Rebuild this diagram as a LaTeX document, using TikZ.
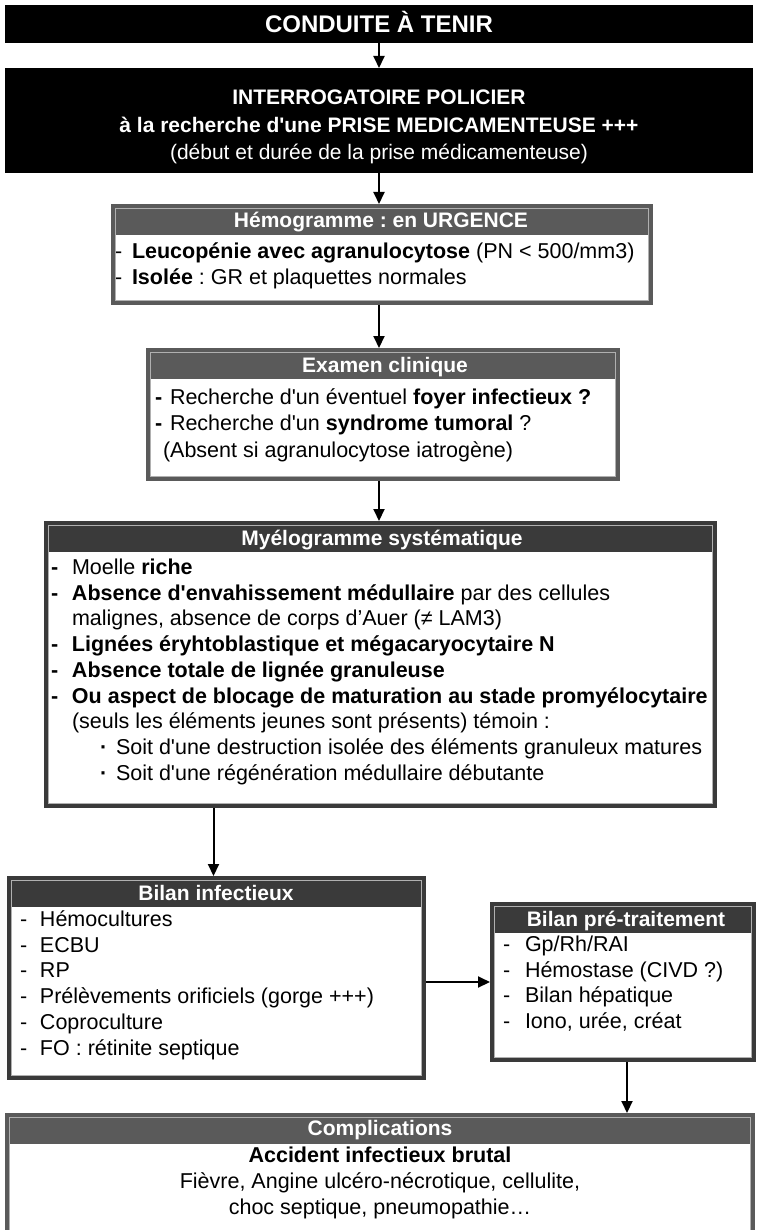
\documentclass[tikz,border=0pt]{standalone}
\usepackage{fontspec}
\setmainfont{Liberation Sans}[Ligatures=TeXOff]
\usetikzlibrary{arrows.meta}
\frenchspacing
\definecolor{grayA}{HTML}{5A5A5A}
\definecolor{grayB}{HTML}{3A3A3A}
\definecolor{innerl}{HTML}{B0B0B0}
\tikzset{
  every node/.style={inner sep=0pt, outer sep=0pt},
  txt/.style={font=\fontsize{21.5}{25}\selectfont, anchor=base west},
  ctxt/.style={font=\fontsize{21.5}{25}\selectfont, anchor=base},
  htxt/.style={font=\fontsize{21}{25}\selectfont\bfseries, text=white, anchor=base},
  arr/.style={line width=2pt, -{Triangle[width=11pt,length=12pt]}},
  blackbox/.style={fill=black, draw=none, anchor=north west},
  framebox/.style={draw=#1, line width=4pt, fill=white, outer sep=2pt, anchor=north west},
}
\newcommand{\hdrfill}[3]{%
  \fill[#2] ([xshift=4pt,yshift=-4pt]#1.north west) rectangle ([xshift=-4pt,yshift=-#3]#1.north east);
  \draw[innerl, line width=0.8pt] ([xshift=4.4pt,yshift=-4.4pt]#1.north west) rectangle ([xshift=-4.4pt,yshift=4.4pt]#1.south east);
}
\begin{document}
\frenchspacing
\begin{tikzpicture}[x=1pt,y=-1pt]
\clip (0,0) rectangle (758,1230);
\fill[white] (0,0) rectangle (758,1230);

% banner
\node[blackbox, minimum width=748pt, minimum height=38pt] (banner) at (5,5) {};
\node[htxt, font=\fontsize{24}{28}\selectfont\bfseries] (bannerT) at (379,32.6) {CONDUITE À TENIR};

% interrogatoire
\node[blackbox, minimum width=748pt, minimum height=105pt] (interro) at (5,68) {};
\node[htxt] (int1) at (379,104.5) {INTERROGATOIRE POLICIER};
\node[htxt] (int2) at (379,132.5) {à la recherche d'une PRISE MEDICAMENTEUSE +++};
\node[htxt, font=\fontsize{21}{25}\selectfont] (int3) at (379,159.5) {(début et durée de la prise médicamenteuse)};

% hemogramme
\node[framebox=grayA, minimum width=538pt, minimum height=97pt] (hemo) at (111,204) {};
\hdrfill{hemo}{grayA}{31pt}
\node[htxt] (hemoT) at (381,227.5) {Hémogramme : en URGENCE};
\node[txt] (hemo1) at (115,258.5) {\makebox[17pt][l]{-}\textbf{Leucopénie avec agranulocytose} (PN < 500/mm3)};
\node[txt] (hemo2) at (115,284.5) {\makebox[17pt][l]{-}\textbf{Isolée} : GR et plaquettes normales};

% examen clinique
\node[framebox=grayA, minimum width=470pt, minimum height=129pt] (exam) at (146,348) {};
\hdrfill{exam}{grayA}{31pt}
\node[htxt] (examT) at (385,372) {Examen clinique};
\node[txt] (exam1) at (155,404.5) {\makebox[15pt][l]{\textbf{-}}Recherche d'un éventuel \textbf{foyer infectieux ?}};
\node[txt] (exam2) at (155,430.5) {\makebox[15pt][l]{\textbf{-}}Recherche d'un \textbf{syndrome tumoral} ?};
\node[txt] (exam3) at (163,457) {(Absent si agranulocytose iatrogène)};

% myelogramme
\node[framebox=grayB, minimum width=669pt, minimum height=283pt] (myelo) at (44,521) {};
\hdrfill{myelo}{grayB}{31pt}
\node[htxt] (myeloT) at (382,545.5) {Myélogramme systématique};
\node[txt] (my1) at (51,574.5) {\makebox[21pt][l]{\textbf{-}}Moelle \textbf{riche}};
\node[txt] (my2) at (51,600.2) {\makebox[21pt][l]{\textbf{-}}\textbf{Absence d'envahissement médullaire} par des cellules};
\node[txt] (my3) at (72,625.9) {malignes, absence de corps d’Auer (≠ LAM3)};
\node[txt] (my4) at (51,651.6) {\makebox[21pt][l]{\textbf{-}}\textbf{Lignées éryhtoblastique et mégacaryocytaire N}};
\node[txt] (my5) at (51,677.3) {\makebox[21pt][l]{\textbf{-}}\textbf{Absence totale de lignée granuleuse}};
\node[txt] (my6) at (51,703.0) {\makebox[21pt][l]{\textbf{-}}\textbf{Ou aspect de blocage de maturation au stade promyélocytaire}};
\node[txt] (my7) at (72,728.7) {(seuls les éléments jeunes sont présents) témoin :};
\node[txt] (my8) at (100,754.4) {\makebox[16pt][l]{\textbf{·}}Soit d'une destruction isolée des éléments granuleux matures};
\node[txt] (my9) at (100,780.1) {\makebox[16pt][l]{\textbf{·}}Soit d'une régénération médullaire débutante};

% bilan infectieux
\node[framebox=grayB, minimum width=415pt, minimum height=200pt] (binf) at (7,876) {};
\hdrfill{binf}{grayB}{31pt}
\node[htxt] (binfT) at (216,900.5) {Bilan infectieux};
\node[txt] (bi1) at (20,926.5) {\makebox[20pt][l]{-}Hémocultures};
\node[txt] (bi2) at (20,952.2) {\makebox[20pt][l]{-}ECBU};
\node[txt] (bi3) at (20,977.9) {\makebox[20pt][l]{-}RP};
\node[txt] (bi4) at (20,1003.6) {\makebox[20pt][l]{-}Prélèvements orificiels (gorge +++)};
\node[txt] (bi5) at (20,1029.3) {\makebox[20pt][l]{-}Coproculture};
\node[txt] (bi6) at (20,1055) {\makebox[20pt][l]{-}FO : rétinite septique};

% bilan pre-traitement
\node[framebox=grayB, minimum width=262pt, minimum height=156pt] (pret) at (490,902) {};
\hdrfill{pret}{grayB}{31pt}
\node[htxt] (pretT) at (626,926.5) {Bilan pré-traitement};
\node[txt] (pr1) at (503,951.5) {\makebox[22pt][l]{-}Gp/Rh/RAI};
\node[txt] (pr2) at (503,977.2) {\makebox[22pt][l]{-}Hémostase (CIVD ?)};
\node[txt] (pr3) at (503,1002.9) {\makebox[22pt][l]{-}Bilan hépatique};
\node[txt] (pr4) at (503,1028.6) {\makebox[22pt][l]{-}Iono, urée, créat};

% complications
\node[framebox=grayA, minimum width=746pt, minimum height=140pt] (compl) at (5,1113) {};
\hdrfill{compl}{grayA}{31pt}
\node[htxt] (complT) at (380,1135) {Complications};
\node[ctxt] (co1) at (380,1162) {\textbf{Accident infectieux brutal}};
\node[ctxt] (co2) at (380,1188) {Fièvre, Angine ulcéro-nécrotique, cellulite,};
\node[ctxt] (co3) at (380,1214) {choc septique, pneumopathie…};

% connectors
\draw[arr] (banner.south) -- (interro.north);
\draw[arr] (interro.south) -- (interro.south |- hemo.north);
\draw[arr] (hemo.south -| interro.south) -- (exam.north -| interro.south);
\draw[arr] (exam.south -| interro.south) -- (myelo.north -| interro.south);
\draw[arr] ([xshift=-3pt]binf.north |- myelo.south) -- ([xshift=-3pt]binf.north);
\draw[arr] (binf.east |- pret.west) -- (pret.west);
\draw[arr] ([xshift=4pt]pret.south) -- ([xshift=4pt]pret.south |- compl.north);
\end{tikzpicture}
\end{document}
